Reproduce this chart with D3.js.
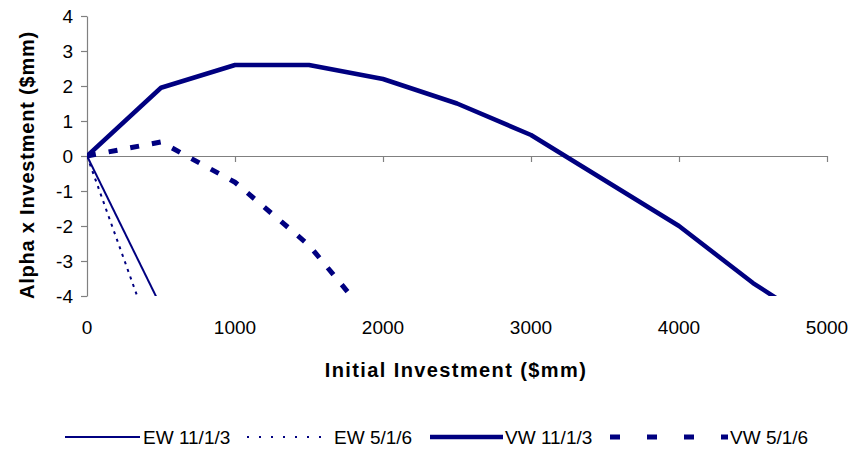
<!DOCTYPE html>
<html>
<head>
<meta charset="utf-8">
<script src="https://cdn.jsdelivr.net/npm/d3@7"></script>
<style>
  html, body { margin: 0; padding: 0; background: #fff; }
  svg { display: block; font-family: Arial, "Liberation Sans", sans-serif; }
</style>
</head>
<body>
<svg id="chart" width="852" height="451"></svg>
<script>
// ---- data ----
const xTicks = [0, 1000, 2000, 3000, 4000, 5000];
const yTicks = [4, 3, 2, 1, 0, -1, -2, -3, -4];
const seriesNames = ["EW 11/1/3", "EW 5/1/6", "VW 11/1/3", "VW 5/1/6"];
const ewLong = [[0, 0], [500, -4.3]];
const ewShort = [[0, 0], [500, -5.9]];
const vwLong = [[0, 0], [500, 1.95], [1000, 2.6], [1500, 2.6], [2000, 2.2], [2500, 1.5], [3000, 0.6], [4000, -2.0], [4500, -3.63], [5000, -5.0]];
const vwShort = [[0, 0], [500, 0.4], [1000, -0.75], [1500, -2.55], [2000, -5.1]];

const svg = d3.select("#chart");
const navy = "#000080";
const axisGray = "#808080";

const x = d3.scaleLinear().domain([0, 5000]).range([87, 827]);
const y = d3.scaleLinear().domain([-4, 4]).range([296, 16]);

// clip
svg.append("clipPath").attr("id", "plotclip")
  .append("rect").attr("x", 87).attr("y", 16).attr("width", 740).attr("height", 280);

// y axis
const yAxis = d3.axisLeft(y).tickValues(yTicks).tickSize(6).tickSizeOuter(0).tickFormat(d3.format("d"));
const gy = svg.append("g").attr("transform", `translate(${x(0)},0)`).call(yAxis);
gy.select(".domain").attr("stroke", axisGray).attr("stroke-width", 1.2);
gy.selectAll(".tick line").attr("stroke", axisGray).attr("stroke-width", 1.2);
gy.selectAll(".tick text").attr("font-size", 19).attr("fill", "#000").attr("x", -14)
  .attr("font-family", "Arial, 'Liberation Sans', sans-serif")
  .text(d => d < 0 ? "-" + Math.abs(d) : d);

// x axis at y=0
const xAxis = d3.axisBottom(x).tickValues(xTicks).tickSize(6).tickSizeOuter(0).tickFormat(d => d);
const gx = svg.append("g").attr("transform", `translate(0,${y(0)})`).call(xAxis);
gx.select(".domain").attr("stroke", axisGray).attr("stroke-width", 1.2);
gx.selectAll(".tick line").attr("stroke", axisGray).attr("stroke-width", 1.2);
gx.selectAll(".tick text").remove();

// x tick labels at bottom
svg.append("g").selectAll("text").data(xTicks).join("text")
  .attr("x", d => x(d)).attr("y", 334)
  .attr("text-anchor", "middle").attr("font-size", 19).attr("fill", "#000")
  .text(d => d);

// lines
const line = d3.line().x(d => x(d[0])).y(d => y(d[1]));
const plot = svg.append("g").attr("clip-path", "url(#plotclip)");
const styles = [
  { data: ewLong, w: 2, dash: null },
  { data: ewShort, w: 2, dash: "3,5" },
  { data: vwLong, w: 4.5, dash: null },
  { data: vwShort, w: 5, dash: "9,13" }
];
styles.forEach(s => {
  plot.append("path").datum(s.data).attr("d", line)
    .attr("fill", "none").attr("stroke", navy)
    .attr("stroke-width", s.w)
    .attr("stroke-dasharray", s.dash)
    .attr("stroke-linejoin", "round");
});

// axis titles
svg.append("text").attr("x", 456).attr("y", 377)
  .attr("text-anchor", "middle").attr("font-size", 20).attr("font-weight", "bold")
  .attr("letter-spacing", 1.4).text("Initial Investment ($mm)");
svg.append("text").attr("transform", "translate(34,165) rotate(-90)")
  .attr("text-anchor", "middle").attr("font-size", 20).attr("font-weight", "bold")
  .attr("letter-spacing", 0.8).text("Alpha x Investment ($mm)");

// legend
const legendItems = [
  { name: seriesNames[0], x1: 65, x2: 140, w: 2, dash: null, tx: 143 },
  { name: seriesNames[1], x1: 247, x2: 330, w: 2, dash: "2,10", tx: 334 },
  { name: seriesNames[2], x1: 430, x2: 503, w: 4.5, dash: null, tx: 505 },
  { name: seriesNames[3], x1: 610, x2: 728, w: 5, dash: "10,27", tx: 730 }
];
const lg = svg.append("g");
legendItems.forEach(it => {
  lg.append("line").attr("x1", it.x1).attr("x2", it.x2).attr("y1", 437).attr("y2", 437)
    .attr("stroke", navy).attr("stroke-width", it.w).attr("stroke-dasharray", it.dash);
  lg.append("text").attr("x", it.tx).attr("y", 444).attr("font-size", 19).attr("fill", "#000")
    .text(it.name);
});
</script>
</body>
</html>
